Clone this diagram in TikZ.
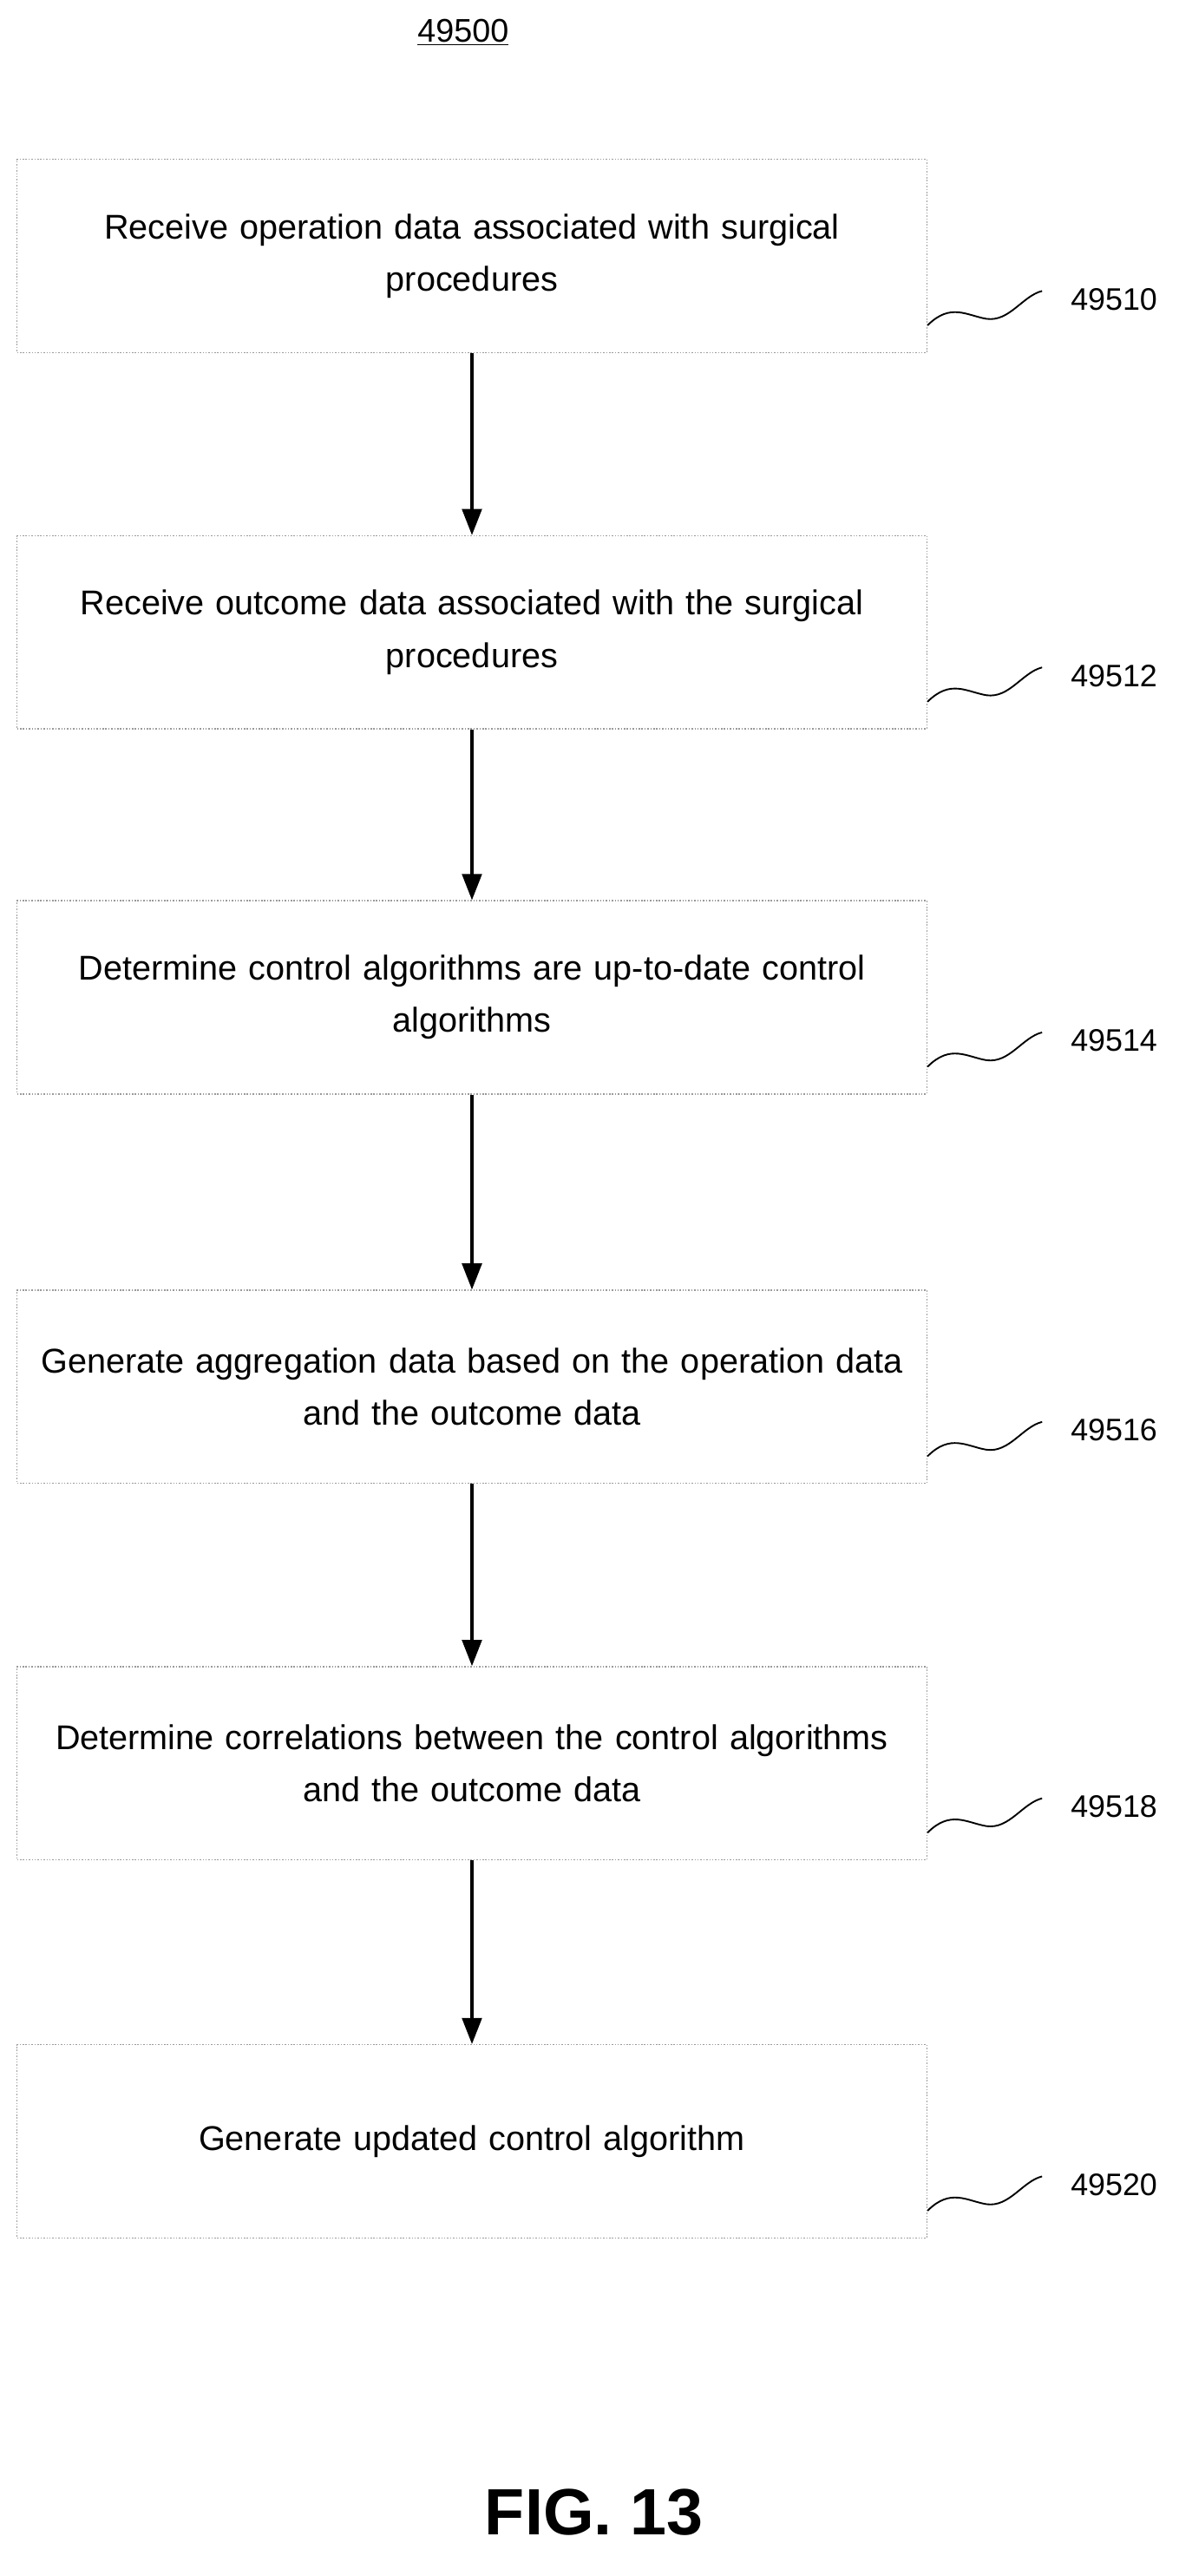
\documentclass[tikz,border=0pt]{standalone}
\usepackage{fontspec}
\setmainfont{Liberation Sans}
\usetikzlibrary{arrows.meta}
\begin{document}
\begin{tikzpicture}[x=1pt,y=-1pt,
  box/.style={draw=gray!80, densely dotted, line width=0.8pt, minimum width=556pt, minimum height=118pt, anchor=north west, align=center, text width=540pt, font=\fontsize{21}{32}\selectfont},
  arr/.style={line width=1.8pt, -{Triangle[length=16pt,width=12pt]}},
  lbl/.style={font=\fontsize{19}{22}\selectfont},
  sq/.style={line width=1pt}]
\useasboundingbox (0,0) rectangle (720,1574);
\node[font=\fontsize{20}{22}\selectfont] (t) at (283,20) {\underline{49500}};
\node[box] (b1) at (10,97) {Receive operation data associated with surgical\\procedures};
\node[box] (b2) at (10,327) {Receive outcome data associated with the surgical\\procedures};
\node[box] (b3) at (10,550) {Determine control algorithms are up-to-date control\\algorithms};
\node[box] (b4) at (10,788) {Generate aggregation data based on the operation data\\and the outcome data};
\node[box] (b5) at (10,1018) {Determine correlations between the control algorithms\\and the outcome data};
\node[box] (b6) at (10,1249) {Generate updated control algorithm};
\foreach \a/\b in {b1/b2,b2/b3,b3/b4,b4/b5,b5/b6}{\draw[arr] (\a.south) -- (\b.north);}
\foreach \n/\l in {b1/49510,b2/49512,b3/49514,b4/49516,b5/49518,b6/49520}{
  \coordinate (s\n) at ([yshift=17pt]\n.south east);
  \coordinate (e\n) at ([xshift=70pt,yshift=38pt]\n.south east);
  \draw[sq] (s\n) .. controls ([xshift=14pt,yshift=14pt]s\n) and ([xshift=24pt,yshift=6pt]s\n) .. ([xshift=36pt,yshift=4pt]s\n) .. controls ([xshift=50pt,yshift=2pt]s\n) and ([xshift=58pt,yshift=18pt]s\n) .. (e\n);
  \node[lbl,anchor=west] (l\n) at ([xshift=84pt,yshift=33pt]\n.south east) {\l};
}
\node[font=\bfseries\fontsize{40}{44}\selectfont] (fig) at (363,1535) {FIG. 13};
\end{tikzpicture}
\end{document}
